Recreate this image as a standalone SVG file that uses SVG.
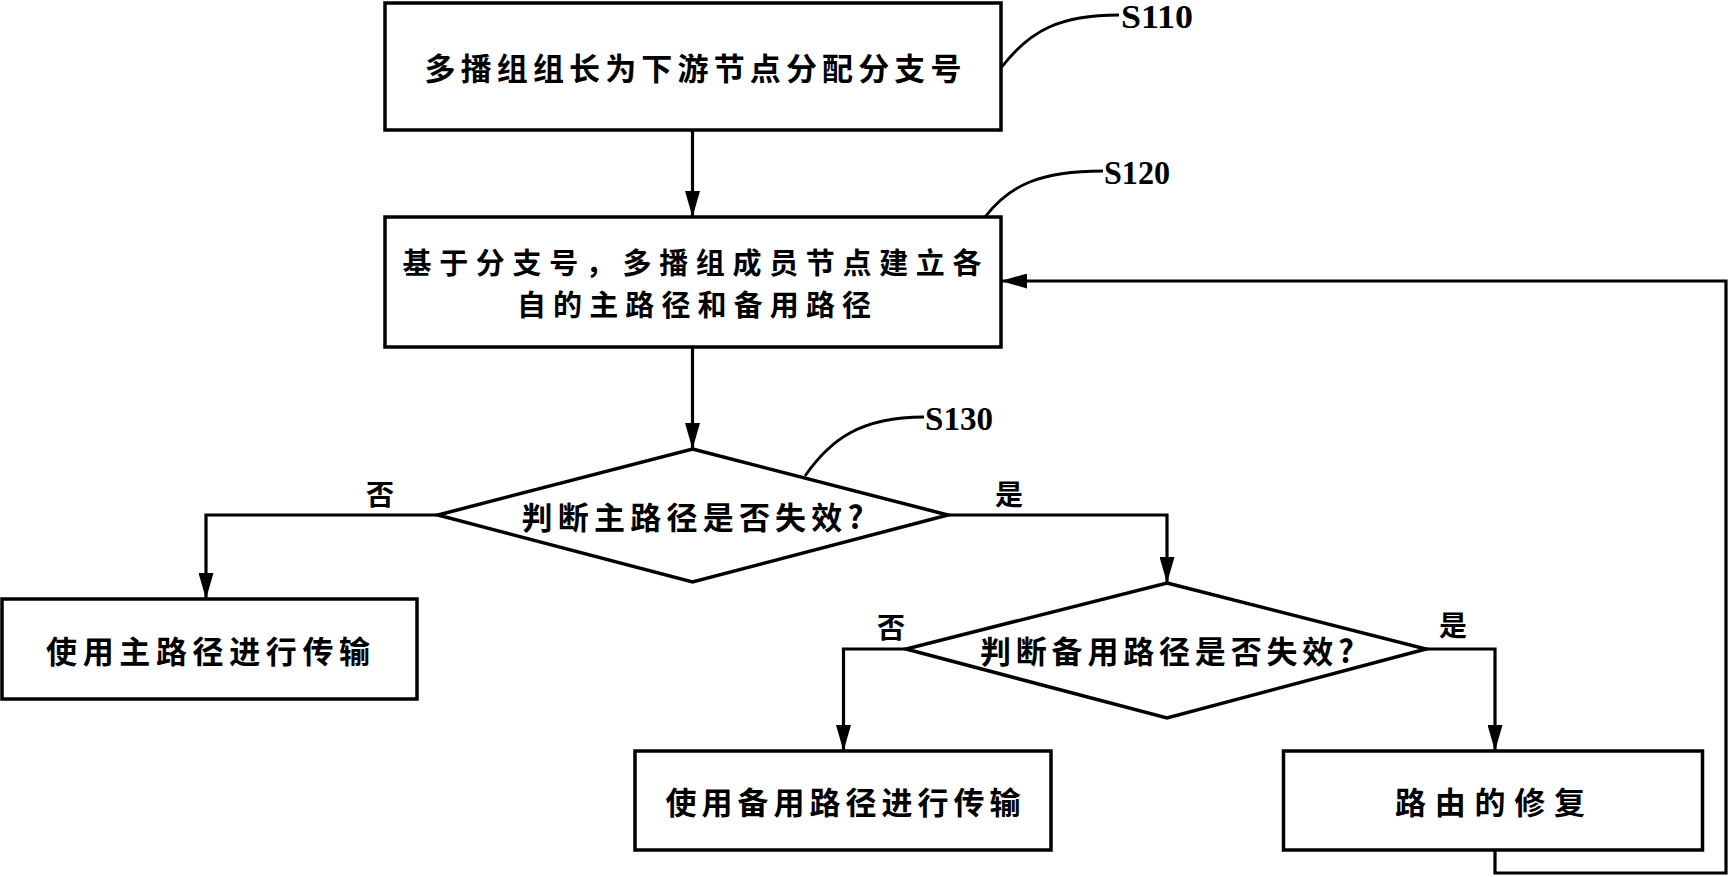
<svg xmlns="http://www.w3.org/2000/svg" width="1729" height="877" viewBox="0 0 1729 877">
<style>
.box{fill:#fff;stroke:#000;stroke-width:3.5}
.ln{fill:none;stroke:#000;stroke-width:3.2}
.lead{fill:none;stroke:#000;stroke-width:2.8}
.t{font-family:"Noto Sans CJK SC","Noto Sans",sans-serif;font-weight:bold;font-size:31px;fill:#000;text-anchor:middle;dominant-baseline:central}
.t2{font-size:29px}
.yn{font-family:"Noto Sans CJK SC","Noto Sans",sans-serif;font-weight:bold;font-size:28px;fill:#000;text-anchor:middle;dominant-baseline:central}
.s{font-family:"Liberation Serif","Times New Roman",serif;font-weight:bold;font-size:34px;fill:#000}
</style>
<defs>
<marker id="ah" viewBox="0 0 26 15" refX="26" refY="7.5" markerWidth="26" markerHeight="15" markerUnits="userSpaceOnUse" orient="auto">
<path d="M0,0 L26,7.5 L0,15 z" fill="#000"/>
</marker>
</defs>
<rect width="1729" height="877" fill="#fff"/>
<g id="connectors">
<path class="ln" d="M692.5,130 V217" marker-end="url(#ah)"/>
<path class="ln" d="M692.5,347 V449" marker-end="url(#ah)"/>
<path class="ln" d="M1495,850 V873 H1726 V281 H1001" marker-end="url(#ah)"/>
<path class="ln" d="M437.8,515 H206 V599" marker-end="url(#ah)"/>
<path class="ln" d="M948,515 H1167 V583" marker-end="url(#ah)"/>
<path class="ln" d="M906,649 H843.5 V751" marker-end="url(#ah)"/>
<path class="ln" d="M1426,649 H1495 V751" marker-end="url(#ah)"/>
<text class="yn" x="380" y="493">否</text>
<text class="yn" x="1009" y="493">是</text>
<text class="yn" x="891" y="626">否</text>
<text class="yn" x="1453" y="624">是</text>
</g>
<g id="S110">
<rect class="box" x="385" y="3" width="616" height="127"/>
<text class="t" x="693" y="66" textLength="537" lengthAdjust="spacing">多播组组长为下游节点分配分支号</text>
<path class="lead" d="M1001,68 C1030,30 1060,15 1119,15"/>
<text class="s" x="1121" y="28" textLength="72" lengthAdjust="spacingAndGlyphs">S110</text>
</g>
<g id="S120">
<rect class="box" x="385" y="217" width="616" height="130"/>
<text class="t t2" x="692" y="261" textLength="579" lengthAdjust="spacing">基于分支号，多播组成员节点建立各</text>
<text class="t t2" x="694" y="303" textLength="354" lengthAdjust="spacing">自的主路径和备用路径</text>
<path class="lead" d="M985,217 C1010,185 1040,171 1103,171"/>
<text class="s" x="1104" y="184" textLength="66" lengthAdjust="spacingAndGlyphs">S120</text>
</g>
<g id="S130">
<polygon class="box" points="692.5,449 948,515 692.5,582 437.8,515"/>
<text class="t" x="692.5" y="515" textLength="342" lengthAdjust="spacing">判断主路径是否失效?</text>
<path class="lead" d="M805,476 C830,440 860,417 924,417"/>
<text class="s" x="925" y="430" textLength="68" lengthAdjust="spacingAndGlyphs">S130</text>
</g>
<g id="use-main">
<rect class="box" x="2" y="599" width="415" height="100"/>
<text class="t" x="208" y="649" textLength="324" lengthAdjust="spacing">使用主路径进行传输</text>
</g>
<g id="check-backup">
<polygon class="box" points="1167,583 1426,649 1167,718 906,649"/>
<text class="t" x="1167" y="649" textLength="374" lengthAdjust="spacing">判断备用路径是否失效?</text>
</g>
<g id="use-backup">
<rect class="box" x="635" y="751" width="416" height="99"/>
<text class="t" x="843" y="800" textLength="355" lengthAdjust="spacing">使用备用路径进行传输</text>
</g>
<g id="repair">
<rect class="box" x="1283.5" y="751" width="419" height="99"/>
<text class="t" x="1490" y="800" textLength="190" lengthAdjust="spacing">路由的修复</text>
</g>
</svg>
